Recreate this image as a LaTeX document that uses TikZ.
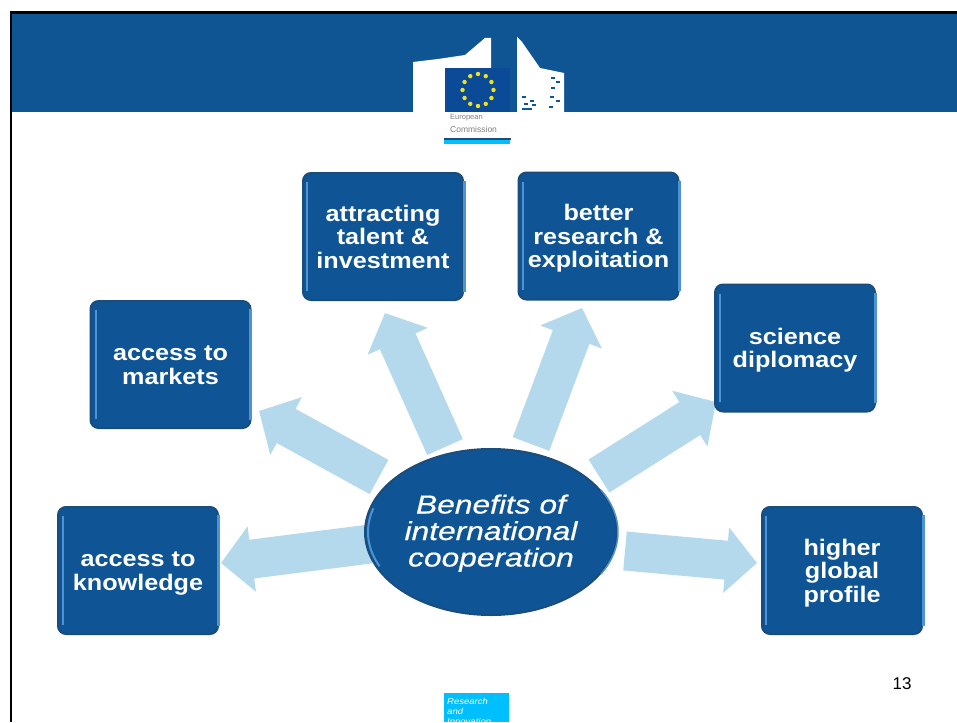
\documentclass[tikz,border=0pt]{standalone}
\usepackage{fontspec}
\setmainfont{Liberation Sans}
\newfontfamily\boxfont[FakeStretch=1.12]{Liberation Sans}
\newfontfamily\hubfont[FakeStretch=1.22,FakeBold=0.6]{Liberation Sans}
\usetikzlibrary{arrows.meta,shapes.geometric}
\definecolor{bandblue}{HTML}{0F5493}
\definecolor{boxblue}{HTML}{0F5595}
\definecolor{boxedge}{HTML}{1A4C7C}
\definecolor{boxlight}{HTML}{4F93D2}
\definecolor{arrowblue}{HTML}{B4D9EC}
\definecolor{flagblue}{HTML}{0B4A96}
\definecolor{eustar}{HTML}{F2E21E}
\definecolor{cyanbar}{HTML}{00BFFF}
\newcommand{\firststrut}{\rule{0pt}{21pt}}
\newcommand{\laststrut}{\rule[-5pt]{0pt}{5pt}}
\tikzset{
  benefit/.style={draw=boxedge,line width=2pt,fill=boxblue,rounded corners=8pt,
    text=white,font=\boxfont\fontsize{22.5}{23.5}\selectfont\bfseries,align=center,
    minimum width=160pt,minimum height=127pt,inner sep=0pt},
  hub/.style={ellipse,draw=boxedge,line width=2pt,fill=boxblue,text=white,
    font=\hubfont\fontsize{26}{26.5}\selectfont\itshape,align=center,
    minimum width=252pt,minimum height=166pt,inner sep=0pt},
  bigarrow/.style={draw=arrowblue,line width=39pt,
    -{Triangle[length=31pt,width=64pt,color=arrowblue]}},
  glint/.style={draw=boxlight,line width=2.5pt},
  logotext/.style={text=black!50,inner sep=0pt,anchor=west},
}
\begin{document}
\begin{tikzpicture}[x=1pt,y=-1pt]
\useasboundingbox (0,0) rectangle (957,722);
\clip (0,0) rectangle (957,722);
\fill[white] (0,0) rectangle (957,722);
% header band and frame
\fill[bandblue] (12,13) rectangle (957,112);
\fill[black] (10,11) rectangle (957,14);
\fill[black] (10,11) rectangle (12,722);
% logo
\fill[white] (413,62) -- (438,59) -- (465,55) -- (485,38) -- (491,38) -- (491,80) -- (491,112) -- (413,112) -- cycle;
\fill[white] (517,37) -- (522,42) -- (540,68) -- (564,73) -- (564,112) -- (517,112) -- cycle;
\fill[flagblue] (445,68) rectangle (510,112);
\foreach \a in {0,30,...,330}
  \fill[eustar] ({478+15.5*cos(\a)},{90+16*sin(\a)}) circle (2.2pt);
\foreach \p/\q in {553/78,558/82,553/88,524/97,532/101,552/97,558/101,526/104,534/105,551/107}
  \fill[bandblue] (\p-2,\q-1) rectangle (\p+2,\q+1);
\fill[bandblue] (522,108) rectangle (532,110);
\node[logotext,font=\fontsize{7.5}{8}\selectfont] (eutop) at (450,118) {European};
\node[logotext,font=\fontsize{8.5}{9}\selectfont] (eubottom) at (450,129) {Commission};
\fill[boxedge] (444,138.5) rectangle (511,140);
\fill[cyanbar] (444,140) rectangle (510,144);
% footer
\node[fill=cyanbar,minimum width=65pt,minimum height=29pt,anchor=north west,inner sep=0pt] (footerbox) at (444,693) {};
\node[anchor=north west,text=white,inner sep=0pt,align=left,
  font=\boxfont\fontsize{8.5}{10}\selectfont\itshape] (footertext) at (447,698) {Research\\and\\Innovation};
\node[font=\fontsize{17}{20}\selectfont,inner sep=0pt] (pagenum) at (902,684) {13};
% arrow ends
\coordinate (t1) at (370,544); \coordinate (h1) at (221,563);
\coordinate (t2) at (379,477); \coordinate (h2) at (259,411);
\coordinate (t3) at (445,447); \coordinate (h3) at (385,313);
\coordinate (t4) at (531,444); \coordinate (h4) at (582,308);
\coordinate (t5) at (599,476); \coordinate (h5) at (716,402);
\coordinate (t6) at (625,551); \coordinate (h6) at (757,563);
\foreach \n in {1,...,6} \draw[bigarrow] (t\n) -- (h\n);
% hub
\node[hub] (center) at (491,532) {\rule{0pt}{22pt}Benefits of\\international\\cooperation\rule[-6pt]{0pt}{6pt}};
\draw[boxlight,line width=2pt,domain=155:197,samples=30] plot ({491+123*cos(\x)},{532+81*sin(\x)});
\draw[boxlight,line width=1.5pt,domain=-30:30,samples=30] plot ({491+127*cos(\x)},{532+84*sin(\x)});
% boxes
\newcommand{\benefitbox}[6]{%
  \node[benefit] (#1) at ({(#2+#4)/2},{(#3+#5)/2}) {#6};
  \draw[glint] (#2+6,#3+10) -- (#2+6,#5-10);
  \draw[glint] (#4-0.5,#3+9) -- (#4-0.5,#5-9);
}
\benefitbox{knowledge}{57}{506}{219}{635}{\firststrut access to\\knowledge\laststrut}
\benefitbox{markets}{90}{300}{251}{429}{\firststrut access to\\markets\laststrut}
\benefitbox{talent}{301}{172}{465}{301}{\firststrut attracting\\talent \&\\investment\laststrut}
\benefitbox{research}{517}{172}{680}{300}{\firststrut better\\research \&\\exploitation\laststrut}
\benefitbox{diplomacy}{714}{284}{876}{412}{\firststrut science\\diplomacy\laststrut}
\benefitbox{profile}{760}{506}{924}{635}{\firststrut higher\\global\\profile\laststrut}
\end{tikzpicture}
\end{document}
